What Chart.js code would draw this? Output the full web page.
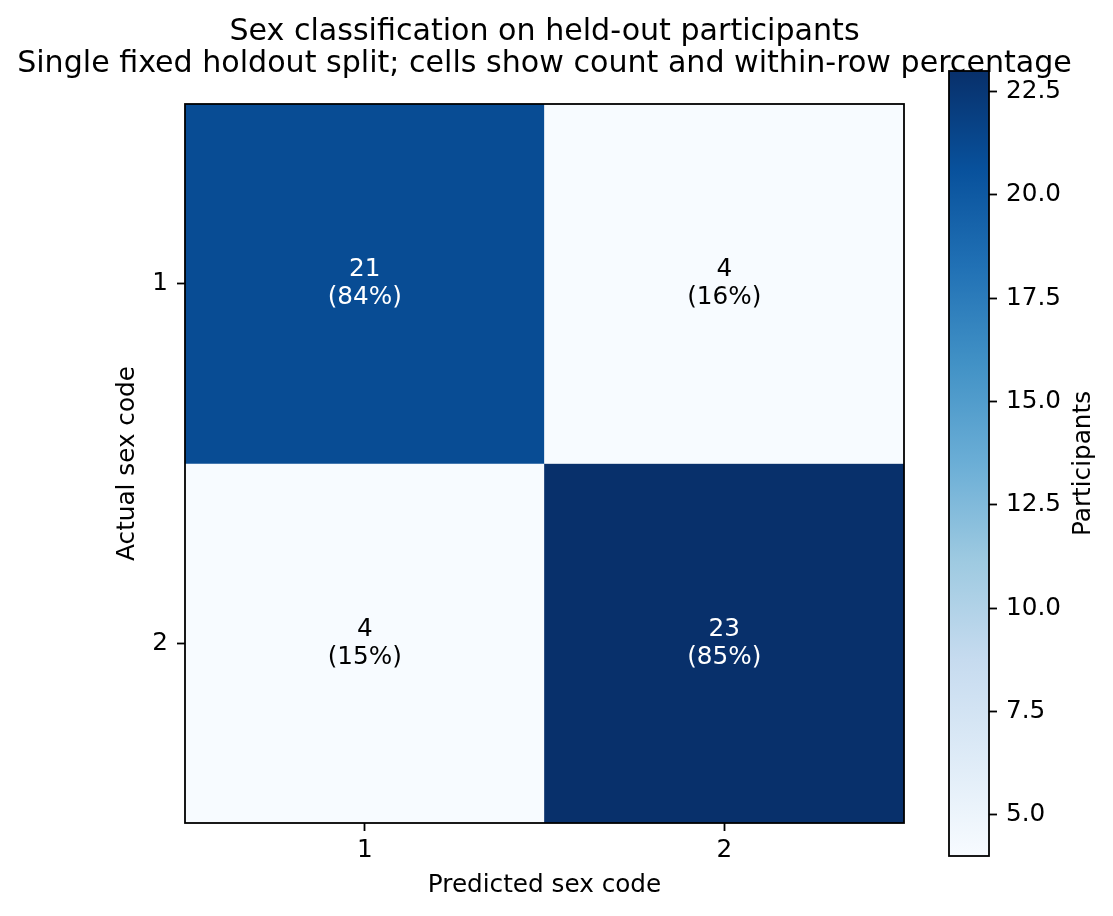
<!DOCTYPE html>
<html>
<head>
<meta charset="utf-8">
<script src="https://cdn.jsdelivr.net/npm/chart.js@4.4.1/dist/chart.umd.min.js"></script>
<style>
  body { margin: 0; background: #fff; }
  #wrap { position: relative; width: 1113px; height: 916px; }
  #heat { position: absolute; left: 0; top: 0; }
  #cbar { position: absolute; left: 900px; top: 0; }
</style>
</head>
<body>
<div id="wrap">
  <canvas id="heat" width="1089" height="916" style="width:1089px;height:916px"></canvas>
  <canvas id="cbar" width="213" height="916" style="width:213px;height:916px"></canvas>
</div>
<script>
// data
const predictedLabels = ['1', '2'];
const actualLabels = ['1', '2'];
const row1Counts = [21, 4];
const row2Counts = [4, 23];
const colorMin = 4;
const colorMax = 23;
const colorbarTicks = [5.0, 7.5, 10.0, 12.5, 15.0, 17.5, 20.0, 22.5];

const titleLines = [
  'Sex classification on held-out participants',
  'Single fixed holdout split; cells show count and within-row percentage'
];

const FONT = '"DejaVu Sans", sans-serif';
const FS = 24.7;
const counts = [row1Counts, row2Counts];

// matplotlib "Blues"
const bluesStops = [
  [247, 251, 255], [222, 235, 247], [198, 219, 239], [158, 202, 225],
  [107, 174, 214], [66, 146, 198], [33, 113, 181], [8, 81, 156], [8, 48, 107]
];
function blues(t) {
  t = Math.max(0, Math.min(1, t));
  const pos = t * (bluesStops.length - 1);
  const i = Math.min(Math.floor(pos), bluesStops.length - 2);
  const f = pos - i;
  const a = bluesStops[i], b = bluesStops[i + 1];
  const c = a.map((v, k) => Math.round(v + (b[k] - v) * f));
  return 'rgb(' + c.join(',') + ')';
}
const norm = v => (v - colorMin) / (colorMax - colorMin);

const tickFont = { family: FONT, size: FS };

// cell labels + frame
const cellText = {
  id: 'cellText',
  afterDatasetsDraw(chart) {
    const { ctx, chartArea: a, scales: { x, y } } = chart;
    ctx.save();
    ctx.font = FS + 'px ' + FONT;
    ctx.textAlign = 'center';
    ctx.textBaseline = 'middle';
    counts.forEach((row, i) => {
      const total = row.reduce((s, v) => s + v, 0);
      row.forEach((v, j) => {
        const px = x.getPixelForValue(j);
        const py = y.getPixelForValue(i + 1);
        ctx.fillStyle = v > (colorMin + colorMax) / 2 ? '#fff' : '#000';
        ctx.fillText(String(v), px, py - 14);
        ctx.fillText('(' + Math.round(100 * v / total) + '%)', px, py + 14);
      });
    });
    ctx.strokeStyle = '#000';
    ctx.lineWidth = 1.8;
    ctx.strokeRect(a.left, a.top, a.right - a.left, a.bottom - a.top);
    ctx.restore();
  }
};

new Chart(document.getElementById('heat'), {
  type: 'bar',
  data: {
    labels: predictedLabels,
    datasets: counts.map((row, i) => ({
      label: 'Actual ' + actualLabels[i],
      data: row.map(() => [i + 0.5, i + 1.5]),
      backgroundColor: row.map(v => blues(norm(v))),
      borderWidth: 0,
      barPercentage: 1,
      categoryPercentage: 1,
      grouped: false
    }))
  },
  options: {
    responsive: false,
    animation: false,
    layout: { padding: { left: 0, right: 0, top: 0, bottom: 13 } },
    plugins: {
      legend: { display: false },
      tooltip: { enabled: false },
      title: {
        display: true,
        text: titleLines,
        color: '#000',
        font: { family: FONT, size: 30.1, weight: 'normal', lineHeight: 32 / 30.1 },
        padding: { top: 16, bottom: 24 }
      }
    },
    scales: {
      x: {
        type: 'category',
        offset: true,
        grid: { offset: false, drawOnChartArea: false, tickLength: 8, tickColor: '#000', tickWidth: 1.8 },
        border: { display: false },
        ticks: { color: '#000', font: tickFont, padding: 5, maxRotation: 0 },
        title: { display: true, text: 'Predicted sex code', color: '#000', font: tickFont, padding: { top: 0, bottom: 3 } },
        afterFit: s => { s.height = 80; }
      },
      y: {
        type: 'linear',
        min: 0.5,
        max: 2.5,
        reverse: true,
        afterBuildTicks: s => { s.ticks = actualLabels.map((_, i) => ({ value: i + 1 })); },
        grid: { drawOnChartArea: false, tickLength: 8, tickColor: '#000', tickWidth: 1.8 },
        border: { display: false },
        ticks: { color: '#000', font: tickFont, padding: 9, callback: v => actualLabels[v - 1] },
        title: { display: true, text: 'Actual sex code', color: '#000', font: tickFont, padding: { top: 113, bottom: 0 } },
        afterFit: s => { s.width = 185; }
      },
      // empty right-hand spacer so the title can span the full canvas
      spacer: {
        type: 'linear',
        position: 'right',
        grid: { display: false },
        border: { display: false },
        ticks: { display: false },
        afterFit: s => { s.width = 185; }
      }
    }
  },
  plugins: [cellText]
});

// colorbar
const cbarFrame = {
  id: 'cbarFrame',
  afterDatasetsDraw(chart) {
    const { ctx, chartArea: a } = chart;
    ctx.save();
    ctx.strokeStyle = '#000';
    ctx.lineWidth = 1.8;
    ctx.strokeRect(a.left, a.top, a.right - a.left, a.bottom - a.top);
    ctx.font = FS + 'px ' + FONT;
    ctx.fillStyle = '#000';
    ctx.textAlign = 'center';
    ctx.textBaseline = 'middle';
    ctx.translate(184, (a.top + a.bottom) / 2);
    ctx.rotate(-Math.PI / 2);
    ctx.fillText('Participants', 0, 0);
    ctx.restore();
  }
};

new Chart(document.getElementById('cbar'), {
  type: 'bar',
  data: {
    labels: [''],
    datasets: [{
      data: [[colorMin, colorMax]],
      backgroundColor: c => {
        const chart = c.chart;
        const ys = chart.scales.y;
        if (!chart.chartArea || !ys) return blues(0.5);
        const g = chart.ctx.createLinearGradient(0, ys.getPixelForValue(colorMin), 0, ys.getPixelForValue(colorMax));
        bluesStops.forEach((s, k) => g.addColorStop(k / (bluesStops.length - 1), 'rgb(' + s.join(',') + ')'));
        return g;
      },
      borderWidth: 0,
      barPercentage: 1,
      categoryPercentage: 1
    }]
  },
  options: {
    responsive: false,
    animation: false,
    layout: { padding: { left: 49, right: 44, top: 71, bottom: 60 } },
    plugins: { legend: { display: false }, tooltip: { enabled: false } },
    scales: {
      x: { display: false },
      y: {
        position: 'right',
        min: colorMin,
        max: colorMax,
        afterBuildTicks: s => { s.ticks = colorbarTicks.map(v => ({ value: v })); },
        grid: { drawOnChartArea: false, tickLength: 8, tickColor: '#000', tickWidth: 1.8 },
        border: { display: false },
        ticks: { color: '#000', font: tickFont, padding: 9, callback: v => Number(v).toFixed(1) },
        afterFit: s => { s.width = 80; }
      }
    }
  },
  plugins: [cbarFrame]
});
</script>
</body>
</html>
